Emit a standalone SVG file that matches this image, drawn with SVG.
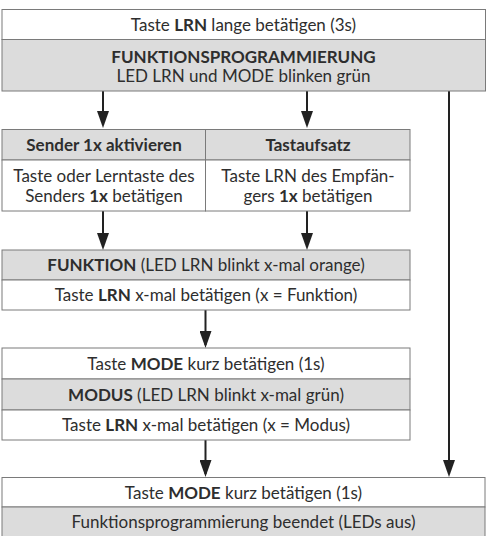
<svg xmlns="http://www.w3.org/2000/svg" width="487" height="536" viewBox="0 0 487 536">
<style>
.w{fill:#ffffff;stroke:#7a7a7a;stroke-width:1}
.g{fill:#dcdcdc;stroke:#7a7a7a;stroke-width:1}
text{font-family:"Lato","Liberation Sans",sans-serif;font-size:17px;fill:#2e2e2e;text-anchor:middle}
.b{font-weight:bold}
.c{stroke:#222;stroke-width:2;fill:none;marker-end:url(#ah)}
</style>
<defs>
<marker id="ah" viewBox="0 0 17 12" refX="14" refY="6" markerWidth="17" markerHeight="12" markerUnits="userSpaceOnUse" orient="auto">
<path d="M0,0 L17,6 L0,12 z" fill="#222"/>
</marker>
</defs>
<g id="connectors">
<line class="c" x1="103" y1="91" x2="103" y2="125"/>
<line class="c" x1="307" y1="91" x2="307" y2="125"/>
<line class="c" x1="449" y1="91" x2="449" y2="474"/>
<line class="c" x1="103" y1="211" x2="103" y2="247"/>
<line class="c" x1="307" y1="211" x2="307" y2="247"/>
<line class="c" x1="205.5" y1="310" x2="205.5" y2="345"/>
<line class="c" x1="205.5" y1="440" x2="205.5" y2="474"/>
</g>
<g id="start">
<rect class="w" x="2" y="9.5" width="483.5" height="30"/>
<rect class="g" x="2" y="39.5" width="483.5" height="51.5"/>
<text x="243.5" y="31">Taste <tspan class="b">LRN</tspan> lange betätigen (3s)</text>
<text x="243.5" y="62.5" class="b">FUNKTIONSPROGRAMMIERUNG</text>
<text x="243.5" y="82">LED LRN und MODE blinken grün</text>
</g>
<g id="sender">
<rect class="g" x="2" y="129.5" width="203.5" height="30.5"/>
<rect class="w" x="2" y="160" width="203.5" height="51"/>
<text x="104" y="151" class="b">Sender 1x aktivieren</text>
<text x="104" y="182">Taste oder Lerntaste des</text>
<text x="104" y="201.5">Senders <tspan class="b">1x</tspan> betätigen</text>
</g>
<g id="tastaufsatz">
<rect class="g" x="205.5" y="129.5" width="204.5" height="30.5"/>
<rect class="w" x="205.5" y="160" width="204.5" height="51"/>
<text x="308" y="151" class="b">Tastaufsatz</text>
<text x="308" y="182">Taste LRN des Empfän-</text>
<text x="308" y="201.5">gers <tspan class="b">1x</tspan> betätigen</text>
</g>
<g id="funktion">
<rect class="g" x="2" y="250" width="408" height="30"/>
<rect class="w" x="2" y="280" width="408" height="30"/>
<text x="206" y="271"><tspan class="b">FUNKTION</tspan> (LED LRN blinkt x-mal orange)</text>
<text x="206" y="301">Taste <tspan class="b">LRN</tspan> x-mal betätigen (x = Funktion)</text>
</g>
<g id="modus">
<rect class="w" x="2" y="348" width="408" height="31"/>
<rect class="g" x="2" y="379" width="408" height="31"/>
<rect class="w" x="2" y="410" width="408" height="30"/>
<text x="206" y="369.5">Taste <tspan class="b">MODE</tspan> kurz betätigen (1s)</text>
<text x="206" y="400.5"><tspan class="b">MODUS</tspan> (LED LRN blinkt x-mal grün)</text>
<text x="206" y="431">Taste <tspan class="b">LRN</tspan> x-mal betätigen (x = Modus)</text>
</g>
<g id="ende">
<rect class="w" x="2" y="477.5" width="483" height="29.5"/>
<rect class="g" x="2" y="507" width="483" height="40"/>
<text x="243.5" y="498.5">Taste <tspan class="b">MODE</tspan> kurz betätigen (1s)</text>
<text x="243.5" y="528">Funktionsprogrammierung beendet (LEDs aus)</text>
</g>
</svg>
